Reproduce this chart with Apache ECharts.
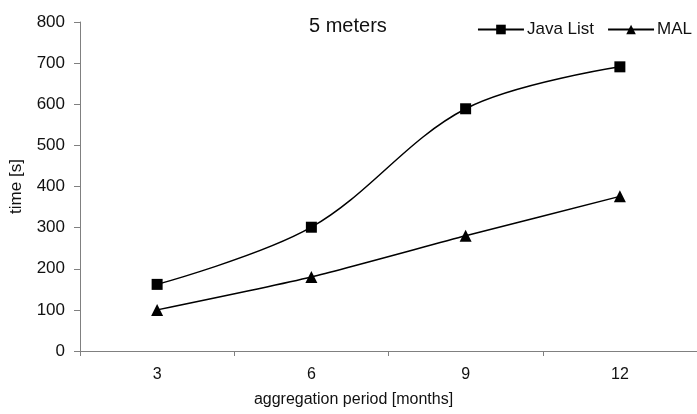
<!DOCTYPE html>
<html><head><meta charset="utf-8">
<script src="https://cdn.jsdelivr.net/npm/echarts@6/dist/echarts.min.js"></script>
<style>html,body{margin:0;padding:0;background:#fff}#c{width:697px;height:414px}</style>
</head><body><div id="c"></div>
<script>
var categories = ['3', '6', '9', '12'];
var javaList = [162, 301, 589, 691];
var mal = [100, 180, 280, 376];
var yTicks = [0, 800, 100];

var chart = echarts.init(document.getElementById('c'));
var font = 'Liberation Sans, Arial, sans-serif';
chart.setOption({
  animation: false,
  backgroundColor: '#fff',
  title: {
    text: '5 meters', left: 304, top: 11,
    textStyle: { fontFamily: font, fontSize: 20, fontWeight: 'normal', color: '#111' }
  },
  legend: {
    right: 0, top: 16, itemWidth: 46, itemHeight: 12, itemGap: 13,
    textStyle: { fontFamily: font, fontSize: 17, color: '#111', padding: [0,0,0,-2] },
    data: ['Java List', 'MAL']
  },
  grid: { left: 78, right: -5, top: 22, bottom: 63, containLabel: false },
  xAxis: {
    type: 'category', data: categories, boundaryGap: true,
    name: 'aggregation period [months]', nameLocation: 'middle', nameGap: 41,
    nameTextStyle: { fontFamily: font, fontSize: 16, color: '#111', padding: [0, 70, 0, 0] },
    axisLine: { lineStyle: { color: '#808080', width: 1 } },
    axisTick: { show: true, length: 5, inside: false, lineStyle: { color: '#808080' } },
    axisLabel: { fontFamily: font, fontSize: 16, color: '#111', margin: 16 }
  },
  yAxis: {
    type: 'value', min: yTicks[0], max: yTicks[1], interval: yTicks[2],
    name: 'time [s]', nameLocation: 'middle', nameGap: 55, nameRotate: 90,
    nameTextStyle: { fontFamily: font, fontSize: 17, color: '#111' },
    axisLine: { show: true, lineStyle: { color: '#808080', width: 1 } },
    axisTick: { show: true, length: 6, lineStyle: { color: '#808080' } },
    splitLine: { show: false },
    axisLabel: { fontFamily: font, fontSize: 17, color: '#111', margin: 15 }
  },
  series: [
    {
      name: 'Java List', type: 'line', data: javaList, smooth: 0.35,
      symbol: 'rect', symbolSize: 11,
      lineStyle: { color: '#000', width: 1.5 },
      itemStyle: { color: '#000' }
    },
    {
      name: 'MAL', type: 'line', data: mal, smooth: 0.2,
      symbol: 'triangle', symbolSize: 12,
      lineStyle: { color: '#000', width: 1.5 },
      itemStyle: { color: '#000' }
    }
  ]
});
</script></body></html>
